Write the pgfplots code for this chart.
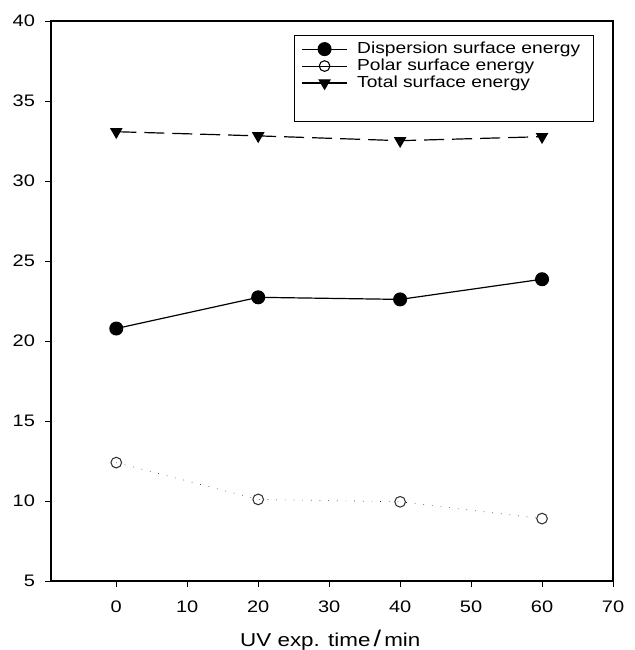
\documentclass[border=0pt]{standalone}
\usepackage{pgfplots}
\pgfplotsset{compat=1.18}
\usepackage{fontspec}
\setmainfont[FakeStretch=1.2]{Liberation Sans}

\begin{document}
\begin{tikzpicture}
\path[use as bounding box] (0,0) rectangle (476.25pt,487.5pt);
\begin{axis}[
  at={(38.25pt,51.75pt)}, anchor=south west,
  scale only axis, width=421.5pt, height=420pt,
  xmin=-9.2, xmax=70, ymin=5, ymax=40,
  xtick={0,10,...,70}, ytick={5,10,...,40},
  tick align=outside, tick pos=left,
  major tick length=4.5pt,
  minor tick num=0,
  tick style={line width=0.7pt, black},
  tick label style={font=\fontsize{12.5}{14}\selectfont},
  xticklabel style={yshift=-7pt},
  yticklabel style={xshift=-4pt},
  /pgf/number format/assume math mode=true,
  xlabel={UV exp. time\,{\fontsize{17}{17}\selectfont /}\,min},
  xlabel style={font=\fontsize{14}{16}\selectfont, at={(axis description cs:0.497,0)}, anchor=north, yshift=-33pt},
  axis line style={line width=0.8pt},
  legend style={draw=none, fill=none, at={(axis cs:25.1,39.1)}, anchor=north west,
    font=\fontsize{12}{13}\selectfont, inner xsep=5pt, inner ysep=3pt, row sep=-1.5pt, column sep=5pt},
  legend cell align=left,
  legend image code/.code={\draw[mark repeat=2,mark phase=2,#1] plot coordinates {(0pt,0pt)(17pt,0pt)(34pt,0pt)};},
]
% Dispersion
\addplot[black, line width=0.9pt, mark=*, mark size=4.8pt, forget plot] coordinates {
(0,20.78) (20,22.73) (40,22.6) (60,23.86)};
% Polar
\addplot[black!80, line width=0.5pt, dash pattern=on 0.5pt off 6pt, mark=o, mark size=4pt,
  mark options={solid, line width=0.8pt, fill=white}, forget plot] coordinates {
(0,12.4) (20,10.1) (40,9.95) (60,8.9)};
% Total
\addplot[black, line width=0.9pt, dash pattern=on 15pt off 6pt, mark=triangle*, mark size=4.6pt,
  mark options={solid, rotate=180}, forget plot] coordinates {
(0,33.08) (20,32.82) (40,32.52) (60,32.77)};
% legend frame
\draw[line width=0.6pt, black] (axis cs:25.1,39.12) rectangle (axis cs:67.3,33.75);

\addlegendimage{black, line width=0.9pt, mark=*, mark size=4.8pt}
\addlegendentry{Dispersion surface energy}
\addlegendimage{draw=none, mark=o, mark size=4pt, mark options={black, line width=0.8pt}}
\addlegendentry{Polar surface energy}
\addlegendimage{black, line width=0.9pt, mark=triangle*, mark size=4.6pt, mark options={rotate=180}}
\addlegendentry{Total surface energy}
\end{axis}
\end{tikzpicture}
\end{document}
